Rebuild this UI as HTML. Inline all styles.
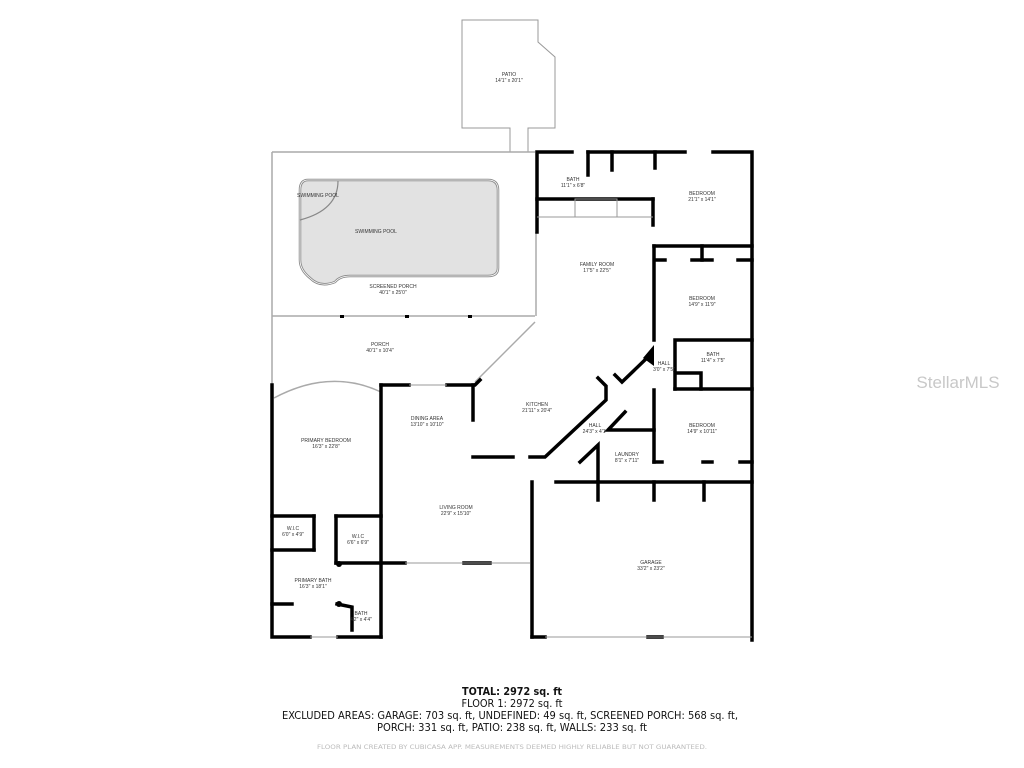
<!DOCTYPE html>
<html><head><meta charset="utf-8"><style>
html,body{margin:0;padding:0;background:#fff;width:1024px;height:768px;overflow:hidden}
svg{display:block}
.l{font-family:"Liberation Sans",sans-serif;font-size:5px;fill:#333;text-anchor:middle}
.b{font-family:"DejaVu Sans",sans-serif;font-size:11px;fill:#111;text-anchor:middle}
</style></head><body>
<svg width="1024" height="768" viewBox="0 0 1024 768">
<polygon points="462,20 538,20 538,42 555,57 555,128 528,128 528,152 510,152 510,128 462,128" fill="none" stroke="#999" stroke-width="1"/>
<text class="l" x="509" y="76">PATIO</text><text class="l" x="509" y="82">14'1" x 20'1"</text>
<g stroke="#aaa" stroke-width="1.5" fill="none">
<line x1="272" y1="152" x2="535" y2="152"/>
<line x1="272" y1="152" x2="272" y2="385"/>
<line x1="272" y1="316" x2="535" y2="316"/>
<line x1="536" y1="232" x2="536" y2="316"/>
<line x1="535" y1="322" x2="475" y2="382"/>
<path d="M274,398 Q330,368 381,392"/>
</g>
<g fill="#000"><rect x="340" y="315" width="4" height="3"/><rect x="405" y="315" width="4" height="3"/><rect x="468" y="315" width="4" height="3"/></g>
<path d="M308,180 L488,180 Q498,180 498,190 L498,268 Q498,276 488,276 L350,276 Q340,276 335,282 Q320,288 310,278 Q300,270 300,260 L300,190 Q300,180 308,180 Z" fill="#e2e2e2" stroke="#888" stroke-width="2.5"/>
<path d="M308,180 L488,180 Q498,180 498,190 L498,268 Q498,276 488,276 L350,276 Q340,276 335,282 Q320,288 310,278 Q300,270 300,260 L300,190 Q300,180 308,180 Z" fill="none" stroke="#fff" stroke-width="0.8"/>
<path d="M338,181 Q338,210 300,220" fill="none" stroke="#888" stroke-width="1.2"/>
<text class="l" x="318" y="197">SWIMMING POOL</text>
<text class="l" x="376" y="233">SWIMMING POOL</text>
<text class="l" x="393" y="288">SCREENED PORCH</text><text class="l" x="393" y="294">40'1" x 25'0"</text>
<text class="l" x="380" y="346">PORCH</text><text class="l" x="380" y="352">40'1" x 10'4"</text>
<g stroke="#000" stroke-width="3.5" fill="none" stroke-linecap="square">
<polyline points="537,232 537,152 572,152"/>
<line x1="588" y1="152" x2="685" y2="152"/>
<polyline points="713,152 752,152 752,640"/>
<line x1="588" y1="152" x2="588" y2="175"/>
<line x1="612" y1="152" x2="612" y2="170"/>
<line x1="655" y1="152" x2="655" y2="168"/>
<line x1="537" y1="199" x2="653" y2="199"/>
<line x1="653" y1="199" x2="653" y2="225"/>
<line x1="654" y1="246" x2="654" y2="340"/>
<line x1="654" y1="246" x2="752" y2="246"/>
<line x1="702" y1="246" x2="702" y2="260"/>
<line x1="657" y1="260" x2="665" y2="260"/>
<line x1="692" y1="260" x2="712" y2="260"/>
<line x1="738" y1="260" x2="752" y2="260"/>
<polyline points="675,370 675,340 752,340"/>
<polyline points="675,389 675,373 701,373 701,389"/>
<line x1="675" y1="389" x2="752" y2="389"/>
<line x1="654" y1="390" x2="654" y2="462"/>
<line x1="654" y1="462" x2="662" y2="462"/>
<line x1="703" y1="462" x2="712" y2="462"/>
<line x1="740" y1="462" x2="752" y2="462"/>
<line x1="556" y1="482" x2="752" y2="482"/>
<line x1="598" y1="482" x2="598" y2="500"/>
<line x1="654" y1="482" x2="654" y2="500"/>
<line x1="704" y1="482" x2="704" y2="500"/>
<line x1="532" y1="482" x2="532" y2="637"/>
<line x1="532" y1="637" x2="545" y2="637"/>
<line x1="648" y1="637" x2="662" y2="637"/>
<polyline points="615,375 622,382 648,357"/>
<polyline points="598,378 606,386 606,400 545,457 530,457"/>
<line x1="513" y1="457" x2="473" y2="457"/>
<polyline points="473,420 473,385 475,385 480,380"/>
<line x1="473" y1="385" x2="447" y2="385"/>
<line x1="381" y1="385" x2="409" y2="385"/>
<line x1="381" y1="385" x2="381" y2="637"/>
<polyline points="272,385 272,637 310,637"/>
<line x1="338" y1="637" x2="381" y2="637"/>
<line x1="272" y1="516" x2="314" y2="516"/>
<line x1="314" y1="516" x2="314" y2="550"/>
<line x1="272" y1="550" x2="314" y2="550"/>
<line x1="336" y1="516" x2="381" y2="516"/>
<line x1="336" y1="516" x2="336" y2="563"/>
<line x1="336" y1="563" x2="405" y2="563"/>
<line x1="464" y1="563" x2="490" y2="563"/>
<line x1="272" y1="604" x2="292" y2="604"/>
<polyline points="337,604 352,607 352,630"/>
<polyline points="625,412 608,430 624,430 654,430"/>
<polyline points="580,462 598,445 598,480"/>
</g>
<polygon points="643,358 654,345 654,366" fill="#000"/>
<circle cx="339" cy="564" r="3" fill="#000"/><circle cx="339" cy="604" r="3" fill="#000"/>
<g stroke="#999" stroke-width="1" fill="none">
<line x1="405" y1="563" x2="530" y2="563"/>
<line x1="409" y1="385" x2="447" y2="385"/>
<line x1="545" y1="637" x2="752" y2="637"/>
<line x1="310" y1="637" x2="338" y2="637"/>
<rect x="575" y="199" width="42" height="18"/>
<line x1="617" y1="217" x2="653" y2="217"/>
<line x1="537" y1="217" x2="575" y2="217"/>
</g>
<text class="l" x="573" y="181">BATH</text><text class="l" x="573" y="187">11'1" x 6'8"</text>
<text class="l" x="702" y="195">BEDROOM</text><text class="l" x="702" y="201">21'1" x 14'1"</text>
<text class="l" x="597" y="266">FAMILY ROOM</text><text class="l" x="597" y="272">17'5" x 22'5"</text>
<text class="l" x="702" y="300">BEDROOM</text><text class="l" x="702" y="306">14'9" x 11'9"</text>
<text class="l" x="713" y="356">BATH</text><text class="l" x="713" y="362">11'4" x 7'5"</text>
<text class="l" x="664" y="365">HALL</text><text class="l" x="664" y="371">3'0" x 7'5"</text>
<text class="l" x="537" y="406">KITCHEN</text><text class="l" x="537" y="412">21'11" x 20'4"</text>
<text class="l" x="427" y="420">DINING AREA</text><text class="l" x="427" y="426">13'10" x 10'10"</text>
<text class="l" x="595" y="427">HALL</text><text class="l" x="595" y="433">24'3" x 4'1"</text>
<text class="l" x="702" y="427">BEDROOM</text><text class="l" x="702" y="433">14'9" x 10'11"</text>
<text class="l" x="627" y="456">LAUNDRY</text><text class="l" x="627" y="462">8'1" x 7'11"</text>
<text class="l" x="326" y="442">PRIMARY BEDROOM</text><text class="l" x="326" y="448">16'3" x 22'8"</text>
<text class="l" x="456" y="509">LIVING ROOM</text><text class="l" x="456" y="515">22'9" x 15'10"</text>
<text class="l" x="293" y="530">W.I.C</text><text class="l" x="293" y="536">6'0" x 4'9"</text>
<text class="l" x="358" y="538">W.I.C</text><text class="l" x="358" y="544">6'6" x 6'9"</text>
<text class="l" x="313" y="582">PRIMARY BATH</text><text class="l" x="313" y="588">16'3" x 18'1"</text>
<text class="l" x="361" y="615">BATH</text><text class="l" x="361" y="621">4'2" x 4'4"</text>
<text class="l" x="651" y="564">GARAGE</text><text class="l" x="651" y="570">33'2" x 23'2"</text>
<text x="958" y="388" font-family="Liberation Sans,sans-serif" font-size="17" fill="#c8c8c8" text-anchor="middle">StellarMLS</text>
<text class="b" x="512" y="695" font-weight="bold" textLength="100" lengthAdjust="spacingAndGlyphs">TOTAL: 2972 sq. ft</text>
<text class="b" x="512" y="707" textLength="101" lengthAdjust="spacingAndGlyphs">FLOOR 1: 2972 sq. ft</text>
<text class="b" x="510" y="719" textLength="456" lengthAdjust="spacingAndGlyphs">EXCLUDED AREAS: GARAGE: 703 sq. ft, UNDEFINED: 49 sq. ft, SCREENED PORCH: 568 sq. ft,</text>
<text class="b" x="512" y="731" textLength="270" lengthAdjust="spacingAndGlyphs">PORCH: 331 sq. ft, PATIO: 238 sq. ft, WALLS: 233 sq. ft</text>
<text x="512" y="749" font-family="DejaVu Sans,sans-serif" font-size="6.5" fill="#bbb" text-anchor="middle" textLength="390" lengthAdjust="spacingAndGlyphs">FLOOR PLAN CREATED BY CUBICASA APP. MEASUREMENTS DEEMED HIGHLY RELIABLE BUT NOT GUARANTEED.</text>
</svg>
</body></html>
